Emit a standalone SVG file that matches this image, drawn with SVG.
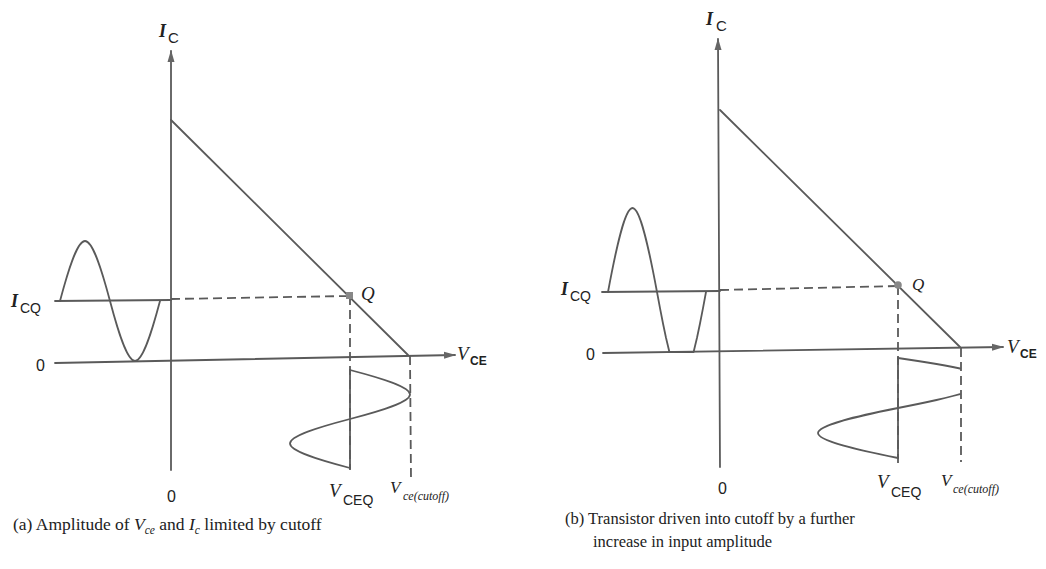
<svg xmlns="http://www.w3.org/2000/svg" width="1046" height="569" viewBox="0 0 1046 569">
<defs>
<style>
.ln{fill:none;stroke:#5a5a5a;stroke-width:1.8;stroke-linecap:round;stroke-linejoin:round}
.ds{fill:none;stroke:#5a5a5a;stroke-width:1.8;stroke-dasharray:9 5}
.it{font-family:"Liberation Serif",serif;font-style:italic;fill:#222}
.sf{font-family:"Liberation Sans",Arial,sans-serif;fill:#222}
.cap{font-family:"Liberation Serif",serif;font-size:16.5px;fill:#222}
</style>
<marker id="arr" markerWidth="12" markerHeight="8" refX="11" refY="4" orient="auto" markerUnits="userSpaceOnUse">
<path d="M0,0.5 L12,4 L0,7.5 Z" fill="#666"/>
</marker>
</defs>
<rect width="1046" height="569" fill="#fff"/>

<g id="panel-a">
<g id="a-connectors">
<path class="ln" d="M171,470 L171,51" marker-end="url(#arr)"/>
<path class="ln" d="M55,363 L455,355" marker-end="url(#arr)"/>
<path class="ln" d="M171,120 L408,355"/>
<path class="ln" d="M55,301 L171,300"/>
<path class="ds" d="M171,299 L350,296"/>
<path class="ds" d="M350,296 L350,470"/>
<path class="ds" d="M410,356 L411,478"/>
<path class="ln" d="M60,301 C68.15,270.3 77.05,241 85,241 C92.95,241 101.85,270.3 110,301 C118.15,331.7 127.05,361 135,361 C142.95,361 151.85,331.7 160,301"/>
<path class="ln" d="M350,370 L350,468"/>
<path class="ln" d="M350,370 C380.7,378 410,386.7 410,394.5 C410,402.3 380.7,411 350,419 C319.3,427 290,435.7 290,443.5 C290,451.3 319.3,460 350,468"/>
</g>
<rect id="a-Q" x="346" y="292" width="7" height="7" fill="#888"/>
<g id="a-labels">
<text class="it" x="159" y="37" font-size="18" font-weight="bold">I</text><text class="sf" x="168" y="43" font-size="15">C</text>
<text class="it" x="11" y="307" font-size="18" font-weight="bold">I</text><text class="sf" x="20" y="313" font-size="14">CQ</text>
<text class="sf" x="36" y="371" font-size="16">0</text>
<text class="it" x="457" y="360" font-size="19">V</text><text class="sf" x="470" y="365" font-size="12" font-weight="bold">CE</text>
<text class="it" x="361" y="300" font-size="19">Q</text>
<text class="sf" x="167" y="502" font-size="16">0</text>
<text class="it" x="329" y="497" font-size="19">V</text><text class="sf" x="343" y="505" font-size="14">CEQ</text>
<text class="it" x="390" y="493" font-size="17">V</text><text class="it" x="403" y="500" font-size="12">ce(cutoff)</text>
<text class="cap" x="13" y="530" style="font-size:17.5px">(a) Amplitude of <tspan font-style="italic">V</tspan><tspan font-style="italic" style="font-size:11.5px" dy="4">ce</tspan><tspan dy="-4"> and </tspan><tspan font-style="italic">I</tspan><tspan font-style="italic" style="font-size:11.5px" dy="4">c</tspan><tspan dy="-4"> limited by cutoff</tspan></text>
</g>
</g>

<g id="panel-b">
<g id="b-connectors">
<path class="ln" d="M720,467 L718,39" marker-end="url(#arr)"/>
<path class="ln" d="M603,353 L1003,347" marker-end="url(#arr)"/>
<path class="ln" d="M720,110 L960,347"/>
<path class="ln" d="M602,292 L720,291"/>
<path class="ds" d="M720,290 L898,286"/>
<path class="ds" d="M898,286 L898,465"/>
<path class="ds" d="M961,348 L961,462"/>
<path class="ln" d="M608,292 C616,249 624.7,208 632.5,208 C640.3,208 649,249 657,292 L660,308.1 L663,323.5 L666,337.8 L669.4,352 L693.6,352 L697,337.8 L700,323.5 L703,308.1 L706,292"/>
<path class="ln" d="M898,358 L898,458"/>
<path class="ln" d="M898,358 L908,359.5 L917.9,361 L927.4,362.5 L936.5,364 L945,365.5 L952.8,367 L960,368.5"/>
<path class="ln" d="M960,394.1 L952.8,396 L945,398 L936.5,400 L927.4,402 L917.9,404 L908,406 L898,408 C857,416.15 818,425.05 818,433 C818,440.95 857,449.85 898,458"/>
</g>
<circle id="b-Q" cx="898" cy="285" r="3.8" fill="#888"/>
<g id="b-labels">
<text class="it" x="706" y="25" font-size="18" font-weight="bold">I</text><text class="sf" x="716" y="31" font-size="15">C</text>
<text class="it" x="561" y="295" font-size="18" font-weight="bold">I</text><text class="sf" x="570" y="301" font-size="14">CQ</text>
<text class="sf" x="586" y="360" font-size="16">0</text>
<text class="it" x="1007" y="353" font-size="19">V</text><text class="sf" x="1020" y="358" font-size="12" font-weight="bold">CE</text>
<text class="it" x="912" y="290" font-size="17">Q</text>
<text class="sf" x="718" y="494" font-size="16">0</text>
<text class="it" x="877" y="488" font-size="19">V</text><text class="sf" x="891" y="497" font-size="14">CEQ</text>
<text class="it" x="941" y="486" font-size="17">V</text><text class="it" x="953" y="493" font-size="12">ce(cutoff)</text>
<text class="cap" x="565" y="524">(b) Transistor driven into cutoff by a further</text>
<text class="cap" x="593" y="547">increase in input amplitude</text>
</g>
</g>
</svg>
